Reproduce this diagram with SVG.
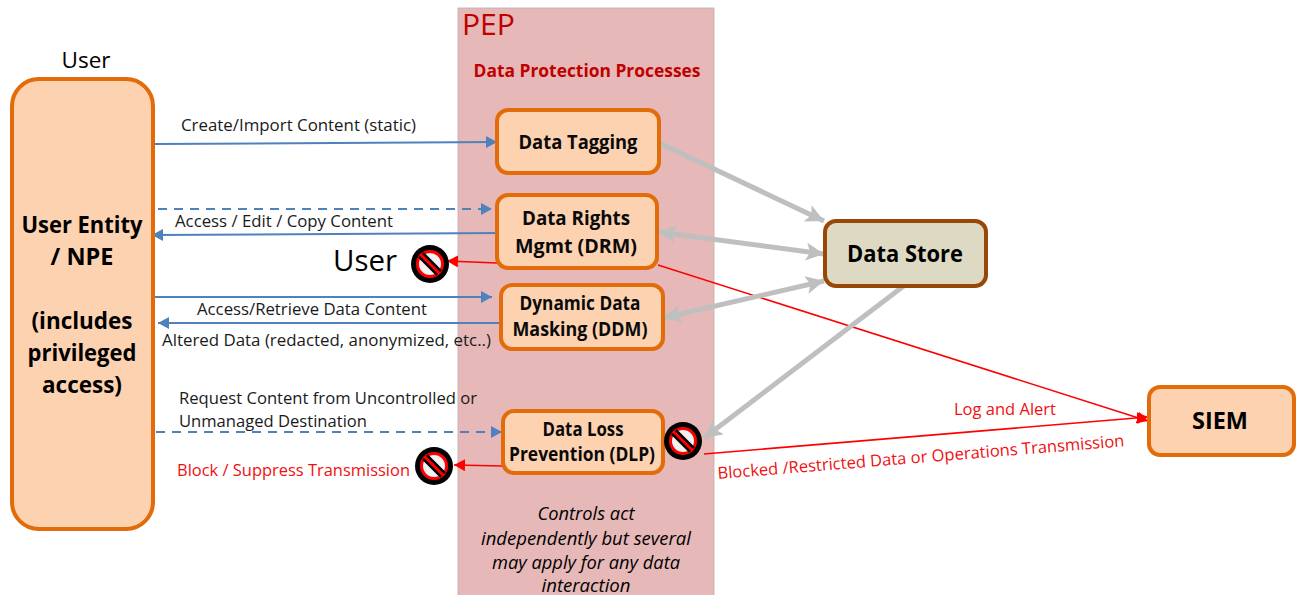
<svg xmlns="http://www.w3.org/2000/svg" width="1301" height="595" viewBox="0 0 1301 595">
<style>
text{font-family:"Open Sans","Noto Sans","Liberation Sans",sans-serif;fill:#000;text-anchor:middle}
.n{fill:#fdd2b0;stroke:#e36c0a;stroke-width:4}
.b{font-weight:700;font-size:20px;fill:#0a0a0a}
.h{font-weight:700;font-size:23.5px}
.l{font-size:16.5px;text-anchor:start;fill:#1a1a1a}
.r{font-size:16.5px;text-anchor:start;fill:#f01010}
.i{font-style:italic;font-size:17.5px}
.blue{fill:none;stroke:#4f81bd;stroke-width:2}
.red{fill:none;stroke:#ff0000;stroke-width:1.6}
.gray{fill:none;stroke:#bfbfbf;stroke-width:5}
</style>
<defs>
<marker id="ab" markerUnits="userSpaceOnUse" markerWidth="12" markerHeight="12" refX="11" refY="6" orient="auto-start-reverse"><path d="M0 0L11 6L0 12Z" fill="#4f81bd"/></marker>
<marker id="ar" markerUnits="userSpaceOnUse" markerWidth="12" markerHeight="12" refX="11" refY="6" orient="auto-start-reverse"><path d="M0 0L11 6L0 12Z" fill="#ff0000"/></marker>
<marker id="ag" markerUnits="userSpaceOnUse" markerWidth="19" markerHeight="18" refX="18" refY="9" orient="auto-start-reverse"><path d="M0 0L18 9L0 18L4 9Z" fill="#bfbfbf"/></marker>
<g id="no"><circle r="19" fill="#000"/><circle r="12.5" fill="#f2f2f2" stroke="#ff0000" stroke-width="3"/><path d="M-9-9L9 9" stroke="#000" stroke-width="8"/><path d="M-9.500-9.500L9.500 9.500" stroke="#ff0000" stroke-width="3"/></g>
</defs>
<rect width="1301" height="595" fill="#fff"/>
<g id="pep"><rect x="458" y="8" width="256" height="600" fill="#e6b8b7" stroke="#b8aeae" stroke-width="0.8"/>
<text x="462" y="35" font-size="29" style="text-anchor:start;fill:#c00000" textLength="53" lengthAdjust="spacingAndGlyphs">PEP</text>
<text x="587" y="77" font-size="18" font-weight="700" style="fill:#c00000" textLength="227" lengthAdjust="spacingAndGlyphs">Data Protection Processes</text></g>
<g id="connectors">
<path class="blue" d="M155 144L497 142" marker-end="url(#ab)"/>
<path class="blue" d="M158 209H492" stroke-dasharray="9 7" marker-end="url(#ab)"/>
<path class="blue" d="M500 233L152 235" marker-end="url(#ab)"/>
<path class="blue" d="M155 297H492" marker-end="url(#ab)"/>
<path class="blue" d="M500 323H158" marker-end="url(#ab)"/>
<path class="blue" d="M156 432H502" stroke-dasharray="9 7" marker-end="url(#ab)"/>
<path class="red" d="M497 263L447 261" marker-end="url(#ar)"/>
<path class="red" d="M658 265L1148 421" marker-end="url(#ar)"/>
<path class="red" d="M704 454L1148 417" marker-end="url(#ar)"/>
<path class="red" d="M503 466L454 465" marker-end="url(#ar)"/>
<path class="gray" d="M657 142L824 221" marker-end="url(#ag)"/>
<path class="gray" d="M658 232L824 254" marker-start="url(#ag)" marker-end="url(#ag)"/>
<path class="gray" d="M663 318L824 281" marker-start="url(#ag)" marker-end="url(#ag)"/>
<path class="gray" d="M905 285L704 438" marker-end="url(#ag)"/>
</g>
<g id="user"><text x="86" y="68" font-size="22" textLength="49" lengthAdjust="spacingAndGlyphs">User</text>
<rect class="n" x="12" y="79" width="141" height="450" rx="27"/>
<text class="h" x="82" y="233" textLength="121" lengthAdjust="spacingAndGlyphs">User Entity</text><text class="h" x="82" y="265">/ NPE</text><text class="h" x="82" y="329" textLength="101" lengthAdjust="spacingAndGlyphs">(includes</text><text class="h" x="82" y="361" textLength="109" lengthAdjust="spacingAndGlyphs">privileged</text><text class="h" x="82" y="393" textLength="80" lengthAdjust="spacingAndGlyphs">access)</text></g>
<g id="tagging"><rect class="n" x="497" y="110" width="162" height="63" rx="11"/><text class="b" x="578" y="149" textLength="119" lengthAdjust="spacingAndGlyphs">Data Tagging</text></g>
<g id="drm"><rect class="n" x="497" y="195" width="160" height="73" rx="11"/><text class="b" x="576" y="225" textLength="108" lengthAdjust="spacingAndGlyphs">Data Rights</text><text class="b" x="576" y="253" textLength="122" lengthAdjust="spacingAndGlyphs">Mgmt (DRM)</text></g>
<g id="ddm"><rect class="n" x="501" y="285" width="162" height="64" rx="11"/><text class="b" x="580" y="310" textLength="121" lengthAdjust="spacingAndGlyphs">Dynamic Data</text><text class="b" x="580" y="336" textLength="135" lengthAdjust="spacingAndGlyphs">Masking (DDM)</text></g>
<g id="dlp"><rect class="n" x="503" y="411" width="160" height="62" rx="11"/><text class="b" x="583" y="436" textLength="81" lengthAdjust="spacingAndGlyphs">Data Loss</text><text class="b" x="582" y="461" textLength="146" lengthAdjust="spacingAndGlyphs">Prevention (DLP)</text></g>
<g id="store"><rect x="825" y="221" width="161" height="65" rx="11" fill="#ddd9c3" stroke="#974806" stroke-width="4"/><text x="905" y="262" font-size="23" font-weight="700" textLength="116" lengthAdjust="spacingAndGlyphs">Data Store</text></g>
<g id="siem"><rect class="n" x="1149" y="387" width="145" height="68" rx="11"/><text x="1220" y="429" font-size="23" font-weight="700" textLength="56" lengthAdjust="spacingAndGlyphs">SIEM</text></g>
<g id="blocks"><use href="#no" x="430" y="264"/><use href="#no" x="683" y="441"/><use href="#no" x="434" y="466"/></g>
<g id="labels">
<text class="l" x="181" y="131" textLength="235" lengthAdjust="spacingAndGlyphs">Create/Import Content (static)</text>
<text class="l" x="175" y="227" textLength="218" lengthAdjust="spacingAndGlyphs">Access / Edit / Copy Content</text>
<text x="333" y="271" font-size="30" style="text-anchor:start" textLength="64" lengthAdjust="spacingAndGlyphs">User</text>
<text class="l" x="197" y="315" textLength="230" lengthAdjust="spacingAndGlyphs">Access/Retrieve Data Content</text>
<text class="l" x="162" y="346" textLength="329" lengthAdjust="spacingAndGlyphs">Altered Data (redacted, anonymized, etc..)</text>
<text class="l" x="179" y="404" textLength="298" lengthAdjust="spacingAndGlyphs">Request Content from Uncontrolled or</text>
<text class="l" x="179" y="427" textLength="188" lengthAdjust="spacingAndGlyphs">Unmanaged Destination</text>
<text class="r" x="177" y="476" textLength="233" lengthAdjust="spacingAndGlyphs">Block / Suppress Transmission</text>
<text class="r" x="954" y="415" textLength="102" lengthAdjust="spacingAndGlyphs">Log and Alert</text>
<text class="r" x="718" y="479" transform="rotate(-4.6 718 479)" textLength="408" lengthAdjust="spacingAndGlyphs">Blocked /Restricted Data or Operations Transmission</text>
<text class="i" x="586" y="520" textLength="97" lengthAdjust="spacingAndGlyphs">Controls act</text>
<text class="i" x="586" y="545" textLength="210" lengthAdjust="spacingAndGlyphs">independently but several</text>
<text class="i" x="586" y="569" textLength="188" lengthAdjust="spacingAndGlyphs">may apply for any data</text>
<text class="i" x="586" y="592" textLength="89" lengthAdjust="spacingAndGlyphs">interaction</text>
</g>
</svg>
